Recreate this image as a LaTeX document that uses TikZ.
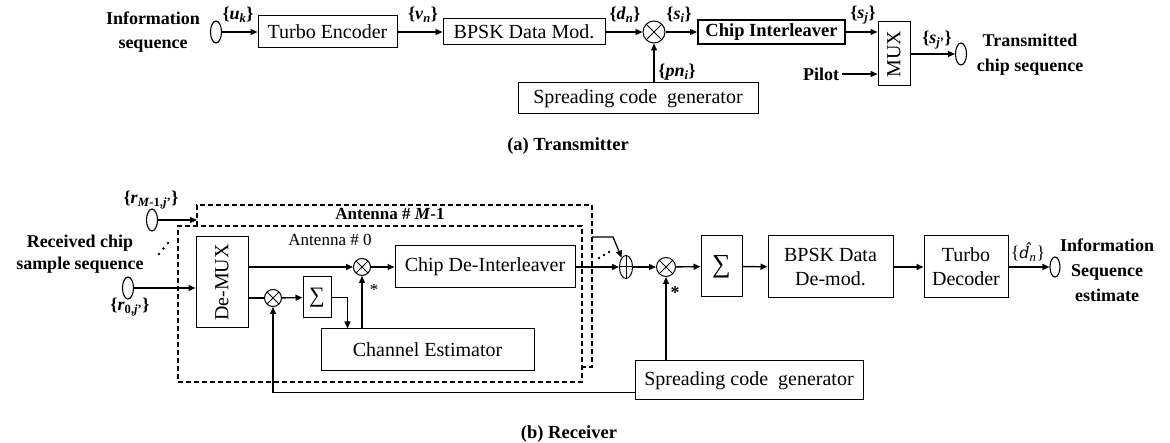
\documentclass[tikz,border=0pt]{standalone}
\usepackage{fontspec}
\setmainfont{Liberation Serif}
\newfontfamily\dvserif{DejaVu Serif}
\usetikzlibrary{arrows.meta,shapes.geometric}
\begin{document}
\begin{tikzpicture}[x=1pt,y=-1pt,
  arr/.style={-{Triangle[length=7pt,width=6pt]}, line width=1.3pt},
  ln/.style={line width=1.3pt},
  box/.style={draw, line width=1pt, inner sep=0pt, align=center, font=\fontsize{20}{24}\selectfont},
  lab/.style={inner sep=0pt, font=\fontsize{18}{22}\selectfont\bfseries},
  mult/.style={circle, draw, line width=1pt, inner sep=0pt,
    path picture={\draw[line width=1pt] (path picture bounding box.north west) -- (path picture bounding box.south east)
      (path picture bounding box.north east) -- (path picture bounding box.south west);}},
  pls/.style={ellipse, draw, line width=1pt, inner sep=0pt, minimum width=13pt, minimum height=23pt,
    path picture={\draw[line width=1pt] (path picture bounding box.north) -- (path picture bounding box.south)
      (path picture bounding box.west) -- (path picture bounding box.east);}},
  oval/.style={ellipse, draw, line width=1.1pt, inner sep=0pt, minimum width=11pt, minimum height=22pt},
  dbox/.style={draw, line width=1.4pt, dash pattern=on 5pt off 3pt, inner sep=0pt}
]
\useasboundingbox (0,0) rectangle (1170,443);

% ---------------- Transmitter ----------------
\node[lab, align=center, font=\fontsize{18}{24}\selectfont\bfseries] (info) at (153,32) {Information\\sequence};
\node[oval] (o1) at (216,32) {};
\node[box, minimum width=139pt, minimum height=32pt] (te) at (327.5,32) {Turbo Encoder};
\node[box, minimum width=162pt, minimum height=26pt] (bm) at (524,32) {BPSK Data Mod.};
\node[mult, minimum size=22pt] (x1) at (654,32) {};
\node[box, line width=2pt, minimum width=147pt, minimum height=24pt, font=\fontsize{18.5}{22}\selectfont\bfseries] (ci) at (771.5,32) {Chip Interleaver};
\node[box, minimum width=32pt, minimum height=64pt] (mux) at (894,54) {\rotatebox{90}{MUX}};
\node[oval] (o2) at (961,54) {};
\node[lab] (pilot) at (821,74) {Pilot};
\node[box, minimum width=240pt, minimum height=31pt] (sg1) at (638,98.5) {Spreading code\ \ generator};
\node[lab, align=center, font=\fontsize{18}{25}\selectfont\bfseries] (tx) at (1030,55) {Transmitted\\chip sequence};

\draw[arr] (o1) -- (te);
\draw[arr] (te) -- (bm);
\draw[arr] (bm) -- (x1);
\draw[arr] (x1) -- (ci);
\draw[arr] (ci.east) -- (ci.east -| mux.west);
\draw[arr] ([xshift=3pt]pilot.east) -- (pilot.east -| mux.west);
\draw[arr] (mux.east |- o2) -- (o2);
\draw[arr] (sg1.north -| x1) -- (x1.south);

\node[lab] (lu) at (238,15) {\{\textit{u}\textsubscript{\textit{k}}\}};
\node[lab] (lv) at (423,15) {\{\textit{v}\textsubscript{\textit{n}}\}};
\node[lab] (ld) at (625,15) {\{\textit{d}\textsubscript{\textit{n}}\}};
\node[lab] (ls) at (679,15) {\{\textit{s}\textsubscript{\textit{i}}\}};
\node[lab] (lsj) at (863,15) {\{\textit{s}\textsubscript{\textit{j}}\}};
\node[lab] (lpn) at (677,72) {\{\textit{pn}\textsubscript{\textit{i}}\}};
\node[lab] (lsjp) at (937,40) {\{\textit{s}\textsubscript{\textit{j}'}\}};

\node[lab, font=\fontsize{18.5}{22}\selectfont\bfseries] (capa) at (568,146) {(a) Transmitter};

% ---------------- Receiver ----------------
\node[dbox, minimum width=395pt, minimum height=162pt] (antM) at (394.5,286) {};
\node[dbox, fill=white, minimum width=404pt, minimum height=156pt] (ant0) at (380,304) {};
\node[font=\fontsize{17}{20}\selectfont\bfseries] (tM) at (390,214) {Antenna \# \textit{M}-1};
\node[font=\fontsize{17}{20}\selectfont] (t0) at (330,240) {Antenna \# 0};

\node[box, minimum width=52pt, minimum height=91pt] (dm) at (222,282.5) {\rotatebox{90}{De-MUX}};
\node[mult, minimum size=17pt] (m1) at (362,267) {};
\node[mult, minimum size=17pt] (m2) at (273,298) {};
\node[box, minimum width=28pt, minimum height=41pt, font=\fontsize{22}{24}\selectfont] (s1) at (317,297.5) {∑};
\node[box, minimum width=213pt, minimum height=42pt] (ce) at (427.5,350) {Channel Estimator};
\node[box, minimum width=180pt, minimum height=42pt] (cdi) at (485,267) {Chip De-Interleaver};
\node[pls] (op) at (626,267) {};
\node[mult, minimum size=19pt] (m3) at (666,267) {};
\node[box, minimum width=41pt, minimum height=61pt, font=\fontsize{26}{28}\selectfont] (s2) at (721.5,266.5) {∑};
\node[box, minimum width=125pt, minimum height=62pt] (bd) at (830.5,267) {BPSK Data\\De-mod.};
\node[box, minimum width=84pt, minimum height=62pt] (td) at (966,267) {Turbo\\Decoder};
\node[oval, minimum width=10pt, minimum height=20pt] (o4) at (1055,267) {};
\node[box, minimum width=228pt, minimum height=39pt] (sg2) at (749,380.5) {Spreading code\ \ generator};

\node[oval] (oM) at (152,220) {};
\node[oval] (o0) at (128,288) {};
\coordinate (inM) at (197,220);
\coordinate (br) at (592,237);

\draw[arr] (oM) -- (inM);
\draw[arr] (o0) -- (o0 -| dm.west);
\draw[arr] (dm.east |- m1) -- (m1);
\draw[ln] (dm.east |- m2) -- (m2);
\draw[arr] (m2) -- (s1);
\draw[arr] (m1) -- (cdi);
\draw[arr] (s1.east) -| ([xshift=27pt]ce.north west);
\draw[arr] (ce.north -| m1) -- (m1.south);
\draw[arr] (cdi) -- (op);
\draw[arr] (br) -- ++(21,0) -- (op.115);
\draw[arr] (op) -- (m3);
\draw[arr] (m3) -- (s2);
\draw[arr] (s2) -- (bd);
\draw[arr] (bd) -- (td);
\draw[arr] (td) -- (o4);
\draw[arr] (sg2.north -| m3) -- (m3.south);
\draw[arr] ([yshift=8pt]sg2.south west) -| (m2.south);

\fill (599,258) circle (1.3) (604,255) circle (1.3) (609,252) circle (1.3);
\fill (159,254) circle (1.3) (163.5,248.5) circle (1.3) (168,243) circle (1.3);

\node[font=\fontsize{17}{20}\selectfont] (st1) at (374,290) {*};
\node[font=\fontsize{18}{20}\selectfont\bfseries] (st2) at (675,293) {*};

\node[lab] (lrM) at (151,200) {\{\textit{r}\textsubscript{\textit{M}-1,\textit{j}'}\}};
\node[lab] (lr0) at (130,307) {\{\textit{r}\textsubscript{0,\textit{j}'}\}};
\node[lab, align=center, font=\fontsize{18}{22}\selectfont\bfseries] (rcs) at (80,254) {Received chip\\sample sequence};
\node[inner sep=0pt, font=\fontsize{18}{22}\selectfont] (ldh) at (1028,252) {\{{\dvserif\itshape\fontsize{16}{20}\selectfont d^^^^0302}\textsubscript{\textit{n}}\}};
\node[lab, align=center, font=\fontsize{18}{25}\selectfont\bfseries] (ise) at (1107,270) {Information\\Sequence\\estimate};
\node[lab, font=\fontsize{18.5}{22}\selectfont\bfseries] (capb) at (569,434) {(b) Receiver};
\end{tikzpicture}
\end{document}
